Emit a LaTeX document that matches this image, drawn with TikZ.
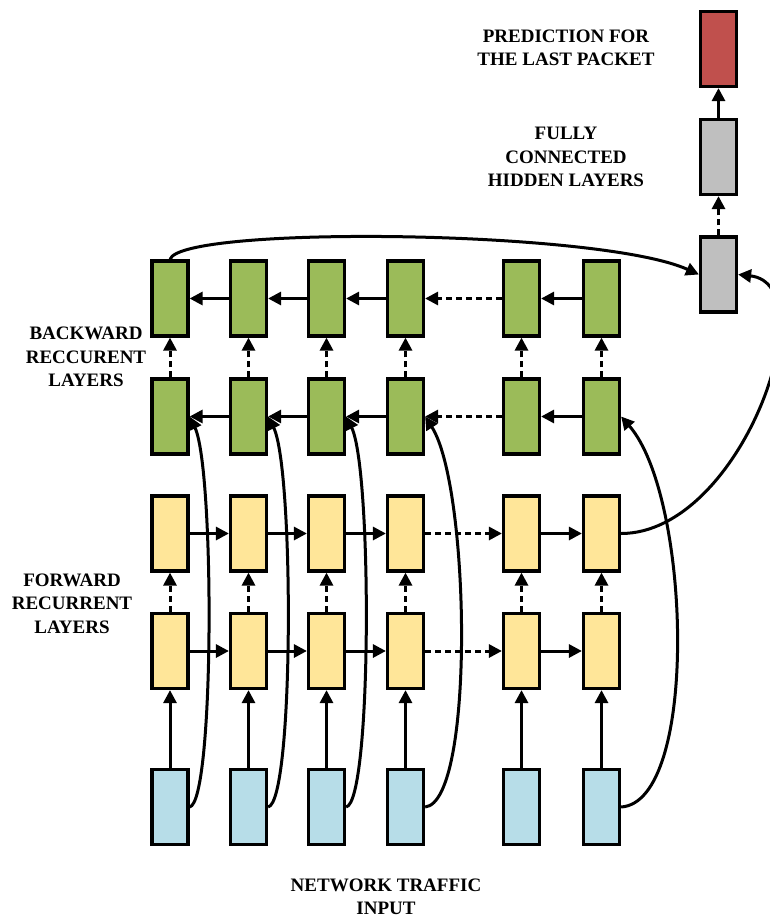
\documentclass[tikz,border=0pt]{standalone}
\usepackage{fontspec}
\setmainfont{Liberation Serif}
\usetikzlibrary{arrows.meta}
\definecolor{cgreen}{HTML}{9BBB59}
\definecolor{cyellow}{HTML}{FFE699}
\definecolor{cblue}{HTML}{B7DDE8}
\definecolor{cgray}{HTML}{BFBFBF}
\definecolor{cred}{HTML}{C0504D}
\begin{document}
\begin{tikzpicture}[x=1pt,y=-1pt,
  cell/.style={draw=black,line width=3.2pt,minimum width=36pt,minimum height=75pt,inner sep=0pt},
  gcell/.style={cell,fill=cgreen},
  ycell/.style={cell,fill=cyellow},
  bcell/.style={cell,fill=cblue},
  hcell/.style={cell,fill=cgray},
  rcell/.style={cell,fill=cred},
  arr/.style={line width=3pt,-{Triangle[length=13pt,width=13pt]}},
  dsh/.style={arr,dash pattern=on 6pt off 4pt},
  lbl/.style={font=\fontsize{19}{23.5}\selectfont\bfseries,align=center,inner sep=0pt}]
\useasboundingbox (0,0) rectangle (770,920);
% columns
\foreach \i/\x in {1/170,2/248.5,3/326.5,4/405.5,5/521.5,6/601.5}{
  \node[gcell] (ga\i) at (\x,298.5) {};
  \node[gcell] (gb\i) at (\x,416.5) {};
  \node[ycell] (ya\i) at (\x,533.5) {};
  \node[ycell] (yb\i) at (\x,651) {};
  \node[bcell] (b\i) at (\x,807) {};
  \draw[dsh] (gb\i.north) -- (ga\i.south);
  \draw[dsh] (yb\i.north) -- (ya\i.south);
  \draw[arr] (b\i.north) -- (yb\i.south);
}
\node[hcell] (h1) at (718.5,274.5) {};
\node[hcell] (h2) at (718.5,157) {};
\node[rcell] (out) at (718.5,49) {};
\draw[dsh] (h1.north) -- (h2.south);
\draw[arr] (h2.north) -- (out.south);
% horizontal connections
\foreach \r in {ga,gb}{
  \draw[arr] (\r2.west) -- (\r1.east);
  \draw[arr] (\r3.west) -- (\r2.east);
  \draw[arr] (\r4.west) -- (\r3.east);
  \draw[dsh] (\r5.west) -- (\r4.east);
  \draw[arr] (\r6.west) -- (\r5.east);
}
\foreach \r in {ya,yb}{
  \draw[arr] (\r1.east) -- (\r2.west);
  \draw[arr] (\r2.east) -- (\r3.west);
  \draw[arr] (\r3.east) -- (\r4.west);
  \draw[dsh] (\r4.east) -- (\r5.west);
  \draw[arr] (\r5.east) -- (\r6.west);
}
% skip connections from input to backward layer
\draw[arr] (b1.east) .. controls +(25,-5) and +(25,52) .. (gb1.east);
\draw[arr] (b2.east) .. controls +(26,-5) and +(26,52) .. (gb2.east);
\draw[arr] (b3.east) .. controls +(26,-5) and +(26,52) .. (gb3.east);
\draw[arr] (b4.east) .. controls +(50,-5) and +(45,70) .. (gb4.east);
\draw[arr] (b6.east) .. controls +(78,-5) and +(70,80) .. (gb6.east);
% to dense layers
\draw[arr] (ya6.east) .. controls +(120,0) and +(90,10) .. (h1.east);
\draw[arr] (ga1.north) .. controls +(10,-34) and +(-100,-45) .. (h1.west);
% labels
\node[lbl] (lp) at (566,48) {PREDICTION FOR\\THE LAST PACKET};
\node[lbl] (lf) at (566,157) {FULLY\\CONNECTED\\HIDDEN LAYERS};
\node[lbl] (lb) at (86,357) {BACKWARD\\RECCURENT\\LAYERS};
\node[lbl] (lfw) at (72,603.5) {FORWARD\\RECURRENT\\LAYERS};
\node[lbl] (ln) at (386,897) {NETWORK TRAFFIC\\INPUT};
\end{tikzpicture}
\end{document}
